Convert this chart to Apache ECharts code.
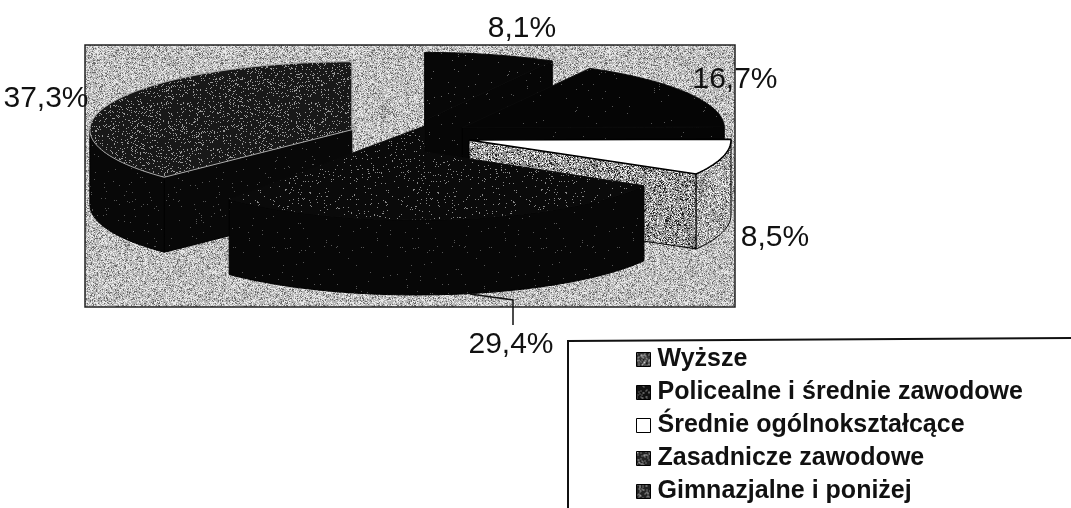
<!DOCTYPE html>
<html><head><meta charset="utf-8">
<style>html,body{margin:0;padding:0;background:#fff}#c{width:1071px;height:508px}</style>
<script src="https://cdn.jsdelivr.net/npm/echarts@6/dist/echarts.min.js"></script>
</head><body><div id="c"></div>
<script>
const categories = ['Wyższe','Policealne i średnie zawodowe','Średnie ogólnokształcące','Zasadnicze zawodowe','Gimnazjalne i poniżej'];
const values = [8.1,16.7,8.5,29.4,37.3];

// --- layout and style ---
const C = {x:409,y:136,rx:262,ry:68,depth:75,explode:62};
const labelPos = [[522,29],[735,80],[775,238],[511,345],[46,99]];
const drawZ = [1,2,4,5,3];
const apexExtra = [null,null,null,[8,-26],null];

let seed = 12345;
function rnd(){ seed = (seed*1103515245+12345)&0x7fffffff; return seed/0x7fffffff; }
function tex(base,light,pLight,dark,pDark){
  const s=128,cv=document.createElement('canvas');cv.width=s;cv.height=s;
  const g=cv.getContext('2d');g.fillStyle=base;g.fillRect(0,0,s,s);
  for(let y=0;y<s;y++)for(let x=0;x<s;x++){
    const r=rnd();
    if(r<pLight){g.fillStyle=light;g.fillRect(x,y,1,1);}
    else if(r<pLight+pDark){g.fillStyle=dark;g.fillRect(x,y,1,1);}
  }
  return {image:cv,repeat:'repeat'};
}
const bgTex   = tex('#b4b4b4','#e8e8e8',0.32,'#6a6a6a',0.14);
const topTex  = [tex('#070707','#666',0.012,'#000',0),
                 tex('#050505','#555',0.008,'#000',0),
                 '#ffffff',
                 tex('#0a0a0a','#888',0.035,'#000',0),
                 tex('#181818','#999',0.11,'#000',0)];
const sideTex = [tex('#060606','#555',0.008,'#000',0),
                 tex('#050505','#555',0.005,'#000',0),
                 tex('#909090','#eee',0.24,'#222',0.18),
                 tex('#070707','#555',0.008,'#000',0),
                 tex('#080808','#555',0.012,'#000',0)];
const outerTex = [sideTex[0],sideTex[1],tex('#a0a0a0','#eee',0.3,'#444',0.14),sideTex[3],sideTex[4]];
const iconTex = [tex('#333','#ccc',0.22,'#000',0.1),tex('#111','#aaa',0.12,'#000',0),'#ffffff',tex('#222','#bbb',0.18,'#000',0),tex('#222','#bbb',0.15,'#000',0)];

const total = values.reduce((a,b)=>a+b,0);
function pt(o,th,d){ return [o.x+C.rx*Math.sin(th), o.y-C.ry*Math.cos(th)+(d||0)]; }
function arc(o,a,b,d){ const n=Math.max(2,Math.ceil((b-a)/0.03)),p=[];
  for(let i=0;i<=n;i++)p.push(pt(o,a+(b-a)*i/n,d)); return p; }

function sliceRender(i){
  let sum=0; for(let k=0;k<i;k++)sum+=values[k];
  const a=sum/total*2*Math.PI, b=(sum+values[i])/total*2*Math.PI, m=(a+b)/2;
  const o={x:C.x+C.explode*Math.sin(m), y:C.y-C.explode*(C.ry/C.rx)*Math.cos(m)};
  const ch=[], line={stroke:'#000',lineWidth:1};
  const face=(pts,fill,st)=>ch.push({type:'polygon',shape:{points:pts},style:Object.assign({fill:fill},st||line)});
  const apex=[o.x,o.y], D=C.depth;
  const radial=(th)=>{const e=pt(o,th);
    face([apex,e,[e[0],e[1]+D],[apex[0],apex[1]+D]],sideTex[i]);};
  if(Math.sin(a)<-1e-6)radial(a);
  if(Math.sin(b)>1e-6)radial(b);
  const fa=Math.max(a,Math.PI/2), fb=Math.min(b,Math.PI*1.5);
  if(fb>fa){ const up=arc(o,fa,fb,0), dn=arc(o,fa,fb,D).reverse();
    face(up.concat(dn),outerTex[i]); }
  let head=[apex];
  if(apexExtra[i]){ const e=[apex[0]+apexExtra[i][0],apex[1]+apexExtra[i][1]]; head=[e,[e[0],apex[1]]]; }
  face(arc(o,a,b,0).concat(head),topTex[i], i===2?{stroke:'#000',lineWidth:1.5}:
        {stroke:i===4?'#aaa':'#0a0a0a',lineWidth:1});
  return {type:'group',children:ch};
}

const sliceSeries = categories.map((name,i)=>({
  type:'custom',name:name,coordinateSystem:'none',z:10+drawZ[i],silent:true,
  animation:false,clip:false,
  itemStyle:{color:iconTex[i],borderColor:'#000',borderWidth:1},
  data:[values[i]],
  renderItem:()=>sliceRender(i)
}));

const labelSeries = {
  type:'custom',name:'labels',coordinateSystem:'none',z:30,silent:true,animation:false,
  data:values,
  renderItem:(p,api)=>{
    const i=p.dataIndex, t=values[i].toFixed(1).replace('.',',')+'%';
    return {type:'text',style:{x:labelPos[i][0],y:labelPos[i][1],text:t,fill:'#111',
      font:'30px "Liberation Sans"',align:'center',verticalAlign:'middle'}};
  }
};

const chart=echarts.init(document.getElementById('c'),null,{renderer:'canvas'});
chart.setOption({
  animation:false,
  backgroundColor:'#ffffff',
  legend:{
    left:636,top:347,orient:'vertical',itemWidth:14,itemHeight:14,itemGap:8,icon:'rect',selectedMode:false,
    padding:0,
    data:categories.map((c,i)=>({name:c,itemStyle:{color:iconTex[i],borderColor:'#000',borderWidth:1}})),
    textStyle:{fontFamily:'"Liberation Sans"',fontWeight:'bold',fontSize:25,color:'#111',padding:[0,0,0,2]}
  },
  graphic:[
    {type:'rect',z:1,silent:true,shape:{x:85,y:45,width:650,height:262},style:{fill:bgTex,stroke:'#222',lineWidth:1.5}},
    {type:'polyline',z:2,silent:true,shape:{points:[[568,508],[568,341],[1071,338]]},style:{fill:'none',stroke:'#111',lineWidth:2}},
    {type:'polyline',z:40,silent:true,shape:{points:[[470,294],[513,300],[513,325]]},style:{fill:'none',stroke:'#111',lineWidth:1.5}}
  ],
  series:sliceSeries.concat([labelSeries])
});
</script></body></html>
